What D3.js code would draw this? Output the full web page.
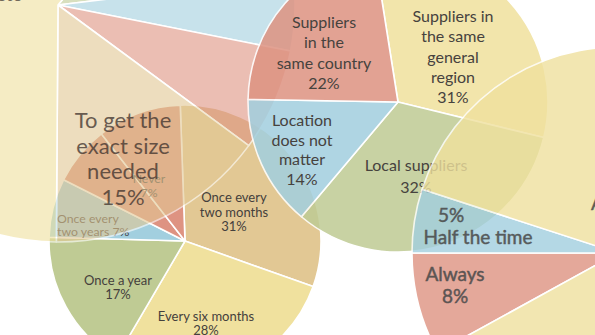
<!DOCTYPE html>
<html><head><meta charset="utf-8">
<script src="https://cdn.jsdelivr.net/npm/d3@7"></script>
<style>
html,body{margin:0;padding:0;background:#fff;overflow:hidden}
svg{display:block}
</style></head>
<body>
<svg id="chart" width="595" height="335"></svg>
<script>
// ---------- DATA ----------
// Pie A: where do you source materials
const catsA   = ["Suppliers in the same general region", "Local suppliers", "Location does not matter", "Suppliers in the same country"];
const valuesA = [31, 32, 14, 22];
const textA   = ["Suppliers in\nthe same\ngeneral\nregion\n31%", "Local suppliers\n32%", "Location\ndoes not\nmatter\n14%", "Suppliers\nin the\nsame country\n22%"];

// Pie B: reasons (partly off the page)
const catsB   = ["Other", "Other 2", "Other 3", "To get the exact size needed", "Less waste"];
const valuesB = [12, 5, 7, 15, 61];
const textB   = [null, null, null, "To get the\nexact size\nneeded\n15%", "Less waste"];

// Pie C: how often
const catsC   = ["Once every two months", "Every six months", "Once a year", "Once every two years", "Never", "Once a month"];
const valuesC = [31, 28, 17, 7, 7, 10];
const textC   = ["Once every\ntwo months\n31%", "Every six months\n28%", "Once a year\n17%", "Once every\ntwo years 7%", "Never\n7%", null];

// Pie D: (right, mostly off the page)
const catsD   = ["Always", "Half the time", "Almost never", "Never"];
const valuesD = [8, 5, 45, 42];
const textD   = ["Always\n8%", "5%\nHalf the time", "Almost never", null];

// ---------- STYLE / LAYOUT ----------
const COL = {red:"#de9382", yellow:"#f0e19e", green:"#bfcb94", blue:"#a2cfdf", tan:"#e2c894"};
const FONT = "Lato, 'Open Sans', sans-serif";
const deg = Math.PI / 180;

const pies = [
  { id:"C", cx:185, cy:241, r:136, start:-2, alpha:1, values:valuesC, text:textC,
    colors:[COL.tan, COL.yellow, COL.green, COL.blue, COL.red, COL.red],
    labels:[
      {x:234, y:202, size:13, lh:14.5, anchor:"middle", fill:"#44403c", op:1},
      {x:206, y:321, size:13, lh:13.5, anchor:"middle", fill:"#44403c", op:1},
      {x:118, y:285, size:13, lh:14, anchor:"middle", fill:"#44403c", op:1},
      {x:57,  y:223, size:12.3, lh:12.5, anchor:"start", fill:"#44403c", op:1},
      {x:149, y:183, size:12.3, lh:14, anchor:"middle", fill:"#44403c", op:1},
      null ] },
  { id:"B", cx:58, cy:5, r:237, start:40, alpha:0.6, values:valuesB, text:textB,
    colors:[COL.green, COL.blue, COL.red, COL.tan, COL.yellow],
    labels:[null, null, null,
      {x:123, y:128, size:22, lh:25.5, anchor:"middle", fill:"#3a2e2a", op:0.74},
      {x:22, y:1, size:18, lh:20, anchor:"end", fill:"#3a3230", op:0.7} ] },
  { id:"A", cx:398, cy:102, r:150, start:351, alpha:0.86, values:valuesA, text:textA,
    colors:[COL.yellow, COL.green, COL.blue, COL.red],
    labels:[
      {x:453, y:22, size:16, lh:20.3, anchor:"middle", fill:"#46423e", op:1},
      {x:416, y:171, size:16, lh:22, anchor:"middle", fill:"#46423e", op:1},
      {x:302, y:126, size:16, lh:19.7, anchor:"middle", fill:"#46423e", op:1},
      {x:324, y:28, size:16, lh:20.3, anchor:"middle", fill:"#46423e", op:1} ] },
  { id:"D", cx:618, cy:253, r:206, start:241.2, alpha:0.8, values:valuesD, text:textD,
    colors:[COL.red, COL.blue, COL.yellow, COL.yellow],
    labels:[
      {x:455, y:281, size:19, lh:22, anchor:"middle", fill:"#4a4a4a", op:0.88, sw:0.45},
      {x:478, y:244, size:19, lh:22, anchor:"middle", fill:"#4a4a4a", op:0.88, sw:0.45, lines:[{dx:-27, dy:-22},{dx:0, dy:0}]},
      {x:591, y:210, size:19, lh:22, anchor:"start", fill:"#4a4a4a", op:0.88, sw:0.45},
      null ] }
];

const svg = d3.select("#chart");

pies.forEach(p => {
  const pie = d3.pie().sort(null).value(d => d)
    .startAngle(p.start * deg).endAngle(p.start * deg + 2 * Math.PI);
  const arc = d3.arc().innerRadius(0).outerRadius(p.r);
  const arcs = pie(p.values);

  const g = svg.append("g").attr("transform", `translate(${p.cx},${p.cy})`)
    .attr("opacity", p.alpha);
  g.selectAll("path").data(arcs).join("path")
    .attr("d", arc)
    .attr("fill", (d, i) => p.colors[i])
    .attr("stroke", "#fff")
    .attr("stroke-width", 1.6)
    .attr("stroke-linejoin", "round");

  const lg = svg.append("g");
  arcs.forEach((a, i) => {
    const L = p.labels[i];
    const t = p.text[i];
    if (!L || !t) return;
    const lines = t.split("\n");
    const txt = lg.append("text")
      .attr("font-family", FONT)
      .attr("font-size", L.size)
      .attr("fill", L.fill)
      .attr("opacity", L.op)
      .attr("text-anchor", L.anchor);
    if (L.sw) txt.attr("stroke", L.fill).attr("stroke-width", L.sw);
    lines.forEach((ln, k) => {
      let x = L.x, y = L.y + k * L.lh;
      if (L.lines) { x = L.x + L.lines[k].dx; y = L.y + L.lines[k].dy; }
      txt.append("tspan").attr("x", x).attr("y", y).text(ln);
    });
  });
});
</script>
</body></html>
